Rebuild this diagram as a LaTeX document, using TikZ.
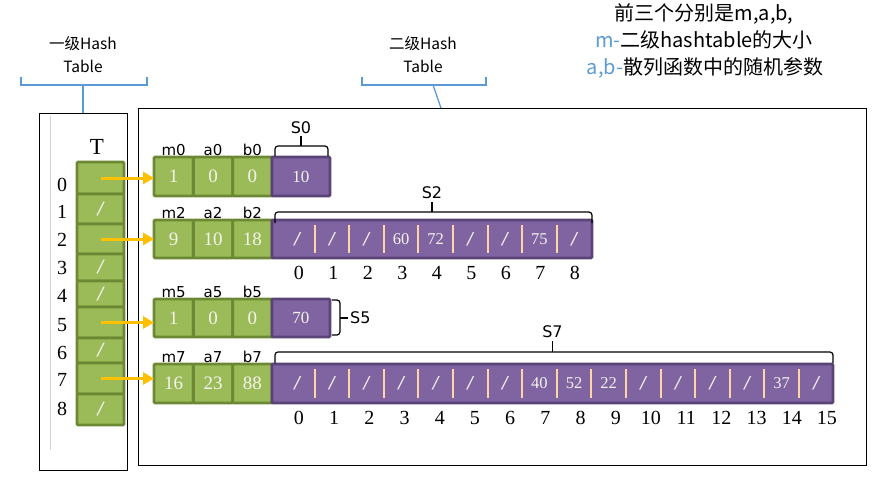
\documentclass[tikz,border=0pt]{standalone}
\usepackage{fontspec}
\usepackage{tikz}
\usetikzlibrary{arrows.meta,positioning}
\setmainfont{Liberation Serif}
\newfontfamily\cjkfont{Noto Sans CJK SC}
\newfontfamily\labelfont{DejaVu Sans}

\definecolor{cellgreen}{RGB}{155,187,89}
\definecolor{edgegreen}{RGB}{108,136,52}
\definecolor{cellpurple}{RGB}{128,100,162}
\definecolor{edgepurple}{RGB}{90,68,118}
\definecolor{divpeach}{RGB}{252,215,165}
\definecolor{ptrorange}{RGB}{255,192,0}
\definecolor{calloutblue}{RGB}{91,155,213}
\definecolor{celltext}{RGB}{244,242,236}

\newcommand{\emptyslot}{{\labelfont\itshape /}}

\tikzset{
  frame/.style={draw=black, line width=1pt, inner sep=0pt, outer sep=0pt},
  callout/.style={draw=calloutblue, line width=1.3pt},
  cjk/.style={font=\cjkfont\fontsize{15.5}{23}\selectfont, align=center, inner sep=0pt},
  note/.style={font=\cjkfont\fontsize{20}{20}\selectfont, inner sep=0pt},
  gcell/.style={rectangle, fill=cellgreen, draw=edgegreen, line width=2.8pt, rounded corners=1pt,
    inner sep=0pt, outer sep=0pt, text=celltext, font=\fontsize{19}{19}\selectfont},
  pcell/.style={rectangle, fill=cellpurple, draw=edgepurple, line width=2.8pt, rounded corners=1pt,
    inner sep=0pt, outer sep=0pt, text=celltext, font=\fontsize{17}{17}\selectfont},
  ptext/.style={inner sep=0pt, text=celltext, font=\fontsize{16.5}{16.5}\selectfont},
  divider/.style={draw=divpeach, line width=2pt},
  idx/.style={inner sep=0pt, font=\fontsize{20}{20}\selectfont},
  param/.style={inner sep=1pt, font=\labelfont\fontsize{15}{15}\selectfont},
  sbrace/.style={draw=black, line width=1.2pt, rounded corners=3pt},
  slabel/.style={inner sep=1pt, font=\labelfont\fontsize{16}{16}\selectfont},
  pointer/.style={draw=ptrorange, line width=3pt, -{Triangle[length=11pt,width=12pt]}},
}

\begin{document}
\begin{tikzpicture}[x=1pt,y=-1pt]
\useasboundingbox (0,0) rectangle (890,480);

% frames with their callouts
\node[frame, minimum width=88pt, minimum height=357pt] (tframe) at (83,291.5) {};
\node[frame, minimum width=728pt, minimum height=357pt] (sframe) at (502,286.5) {};
\draw[gray!35, line width=1pt] ([xshift=11pt,yshift=-3pt]tframe.north west) -- ([xshift=11pt,yshift=20pt]tframe.south west);

\node[cjk] (lvl1) at (83,55) {一级Hash\\Table};
\node[cjk] (lvl2) at (423,55) {二级Hash\\Table};
\coordinate (lvl1stem) at (83,85);
\coordinate (lvl2stem) at (433,85);
\draw[callout] (21,77) |- (lvl1stem) -| (147,77);
\draw[callout] (lvl1stem) -- (tframe.north);
\draw[callout] (362,77) |- (lvl2stem) -| (486,77);
\draw[callout] (lvl2stem) -- ([xshift=-61pt]sframe.north);

\node[note] (note1) at (704,14) {前三个分别是m,a,b,};
\node[note] (note2) at (704,40) {\textcolor{calloutblue}{m-}二级hashtable的大小};
\node[note] (note3) at (705,68) {\textcolor{calloutblue}{a,b-}散列函数中的随机参数};

% first level table T
\node[font=\fontsize{23}{23}\selectfont, inner sep=0pt] (tlabel) at (97,147) {T};
\foreach \i/\yc/\h/\txt in {0/178/32/{}, 1/209/30/\emptyslot, 2/239/30/{}, 3/267.5/27/\emptyslot,
    4/294/26/\emptyslot, 5/322.5/31/{}, 6/350.5/25/\emptyslot, 7/378.5/31/{}, 8/409.5/31/\emptyslot}
  \node[gcell, minimum width=47pt, minimum height=\h pt, font=\fontsize{17}{17}\selectfont] (t\i) at (100.5,\yc) {\txt};
\foreach \i/\yl in {0/185, 1/212, 2/240, 3/268, 4/296, 5/325, 6/353, 7/380, 8/409}
  \node[idx] (row\i) at (62,\yl) {\i};

% second level records m, a, b
\foreach \rw/\yc/\h/\vm/\va/\vb in {0/176.5/39/1/0/0, 2/239/38/9/10/18, 5/318/38/1/0/0, 7/383.5/39/16/23/88}{
  \node[gcell, minimum width=39.3pt, minimum height=\h pt] (m\rw) at (173.7,\yc) {\vm};
  \node[gcell, minimum width=39.3pt, minimum height=\h pt, right=0pt of m\rw] (a\rw) {\va};
  \node[gcell, minimum width=39.3pt, minimum height=\h pt, right=0pt of a\rw] (b\rw) {\vb};
  \node[param, above=0pt of m\rw] (lm\rw) {m\rw};
  \node[param, above=0pt of a\rw] (la\rw) {a\rw};
  \node[param, above=0pt of b\rw] (lb\rw) {b\rw};
  \draw[pointer] (t\rw.center) -- (t\rw.center -| m\rw.west);
}

% S0 and S5
\node[pcell, minimum width=58pt, minimum height=39pt, right=0pt of b0] (s0) {10};
\node[pcell, minimum width=58pt, minimum height=38pt, right=0pt of b5] (s5) {70};

\draw[sbrace] ([xshift=3pt,yshift=1pt]s0.north west) |- ([yshift=11pt]s0.north) -| ([xshift=-2pt,yshift=1pt]s0.north east);
\draw[sbrace] ([yshift=11pt]s0.north) -- ([yshift=21pt]s0.north) coordinate (s0tip);
\node[slabel, anchor=south] (s0label) at ([yshift=1pt]s0tip) {S0};

\draw[sbrace] ([xshift=2pt,yshift=-1pt]s5.north east) -| ([xshift=10pt]s5.east) |- ([xshift=2pt,yshift=2pt]s5.south east);
\draw[sbrace] ([xshift=10pt]s5.east) -- ([xshift=18pt]s5.east) coordinate (s5tip);
\node[slabel, anchor=west] (s5label) at ([xshift=1pt]s5tip) {S5};

% S2
\node[pcell, minimum width=320pt, minimum height=38pt, right=0pt of b2] (s2) {};
\foreach \k in {1,...,8}
  \draw[divider] ([xshift={8pt+\k*34.6pt}, yshift=-5pt]s2.north west) -- ([xshift={8pt+\k*34.6pt}, yshift=5pt]s2.south west);
\foreach \v [count=\k from 0] in {\emptyslot,\emptyslot,\emptyslot,60,72,\emptyslot,\emptyslot,75,\emptyslot}
  \node[ptext] (s2c\k) at ([xshift={8pt+(\k+0.5)*34.6pt}]s2.west) {\v};
\foreach \k in {0,...,8}
  \node[idx] (s2i\k) at ([xshift={27pt+\k*34.5pt}, yshift=-15pt]s2.south west) {\k};
\draw[sbrace] ([xshift=3pt,yshift=-3pt]s2.north west) |- ([yshift=8pt]s2.north) -| ([xshift=0pt,yshift=-3pt]s2.north east);
\draw[sbrace] ([yshift=8pt]s2.north) -- ([yshift=18pt]s2.north) coordinate (s2tip);
\node[slabel, anchor=south] (s2label) at ([yshift=2pt]s2tip) {S2};

% S7
\node[pcell, minimum width=561pt, minimum height=39pt, right=0pt of b7] (s7) {};
\foreach \k in {1,...,15}
  \draw[divider] ([xshift={8pt+\k*34.6pt}, yshift=-5pt]s7.north west) -- ([xshift={8pt+\k*34.6pt}, yshift=5pt]s7.south west);
\foreach \v [count=\k from 0] in {\emptyslot,\emptyslot,\emptyslot,\emptyslot,\emptyslot,\emptyslot,\emptyslot,40,52,22,\emptyslot,\emptyslot,\emptyslot,\emptyslot,37,\emptyslot}
  \node[ptext] (s7c\k) at ([xshift={8pt+(\k+0.5)*34.6pt}]s7.west) {\v};
\foreach \k in {0,...,15}
  \node[idx] (s7i\k) at ([xshift={27pt+\k*35.2pt}, yshift=-15pt]s7.south west) {\k};
\draw[sbrace] ([xshift=3pt,yshift=1pt]s7.north west) |- ([yshift=12pt]s7.north) -| ([xshift=0pt,yshift=1pt]s7.north east);
\draw[sbrace] ([yshift=12pt]s7.north) -- ([yshift=23pt]s7.north) coordinate (s7tip);
\node[slabel, anchor=south] (s7label) at ([yshift=2pt]s7tip) {S7};
\end{tikzpicture}
\end{document}
